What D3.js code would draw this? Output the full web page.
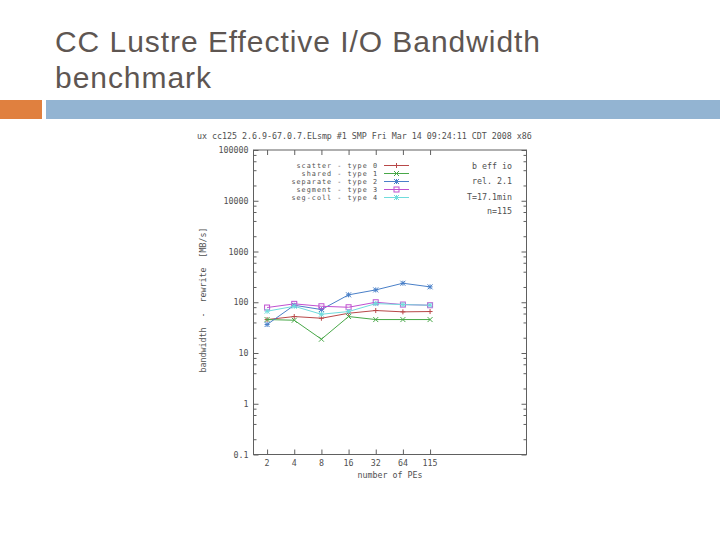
<!DOCTYPE html>
<html><head><meta charset="utf-8">
<script src="https://cdn.jsdelivr.net/npm/d3@7"></script>
<style>body{margin:0;background:#fff;} svg{display:block;}</style>
</head><body>
<svg id="c" width="720" height="540"></svg>
<script>
const titleLines = ["CC Lustre Effective I/O Bandwidth", "benchmark"];
const header = "ux cc125 2.6.9-67.0.7.ELsmp #1 SMP Fri Mar 14 09:24:11 CDT 2008 x86";
const categories = ["2", "4", "8", "16", "32", "64", "115"];
const seriesNames = ["scatter - type 0", "shared - type 1", "separate - type 2", "segment - type 3", "seg-coll - type 4"];
const scatter  = [45.6, 52.3, 48.4, 60.7, 68.7, 64.7, 65.6];
const shared   = [45.6, 44.2, 18.7, 52.3, 45.6, 45.6, 45.6];
const separate = [36.4, 87.3, 71.8, 140, 175, 237, 201];
const segment  = [78.7, 93, 83.4, 79.7, 100, 90, 87.3];
const segcoll  = [66.5, 83.4, 58, 65.6, 94, 90, 87.3];
const yTicks = [0.1, 1, 10, 100, 1000, 10000, 100000];
const yTickLabels = ["0.1", "1", "10", "100", "1000", "10000", "100000"];
const infoLines = ["b eff io", "rel. 2.1", "T=17.1min", "n=115"];
const yLabel = "bandwidth  -  rewrite  [MB/s]";
const xLabel = "number of PEs";

const colors = ["#b84848", "#48a848", "#4a80c8", "#c050d0", "#70dcdc"];
const markers = ["plus", "cross", "star", "square", "star"];
const series = [scatter, shared, separate, segment, segcoll];

const svg = d3.select("#c");
const mono = "'DejaVu Sans Mono', monospace";
const tcol = "#505050";

// slide title
svg.selectAll("text.title").data(titleLines).join("text")
  .attr("x", 55).attr("y", (d, i) => 51.5 + i * 36)
  .attr("font-family", "'Liberation Sans', Arial, sans-serif")
  .attr("font-size", 30).attr("letter-spacing", 0.95).attr("fill", "#5e5652").text(d => d);

// header bars
svg.append("rect").attr("x", 0).attr("y", 100).attr("width", 42).attr("height", 19).attr("fill", "#e0803f");
svg.append("rect").attr("x", 46).attr("y", 100).attr("width", 674).attr("height", 19).attr("fill", "#93b4d2");

// plot area
const L = 253.5, R = 526.5, T = 150, B = 454.5;
const x = d3.scaleLinear().domain([-0.5, 9.55]).range([L, R]);
const y = d3.scaleLog().domain([0.1, 100000]).range([B, T]);

svg.append("text").attr("x", 197).attr("y", 139).attr("font-family", mono)
  .attr("font-size", 8.3).attr("fill", tcol).text(header);

const g = svg.append("g");
g.append("rect").attr("x", L).attr("y", T).attr("width", R - L).attr("height", B - T)
  .attr("fill", "none").attr("stroke", "#606060").attr("stroke-width", 1);

// y ticks major & minor (left + mirrored right)
const minor = [];
for (let e = -1; e < 5; e++) for (const m of [2, 4, 6, 8]) minor.push(m * Math.pow(10, e));
const yAxisL = d3.axisLeft(y).tickValues(yTicks).tickFormat("").tickSize(-5);
const yAxisR = d3.axisRight(y).tickValues(yTicks).tickFormat("").tickSize(-5);
const yMinL = d3.axisLeft(y).tickValues(minor).tickFormat("").tickSize(-3);
const yMinR = d3.axisRight(y).tickValues(minor).tickFormat("").tickSize(-3);
[[yAxisL, L], [yMinL, L], [yAxisR, R], [yMinR, R]].forEach(([a, px]) => {
  const ag = g.append("g").attr("transform", `translate(${px},0)`).call(a);
  ag.select(".domain").remove();
  ag.selectAll("line").attr("stroke", "#606060");
});
// y tick labels
g.selectAll("text.yl").data(yTicks).join("text")
  .attr("x", L - 5).attr("y", d => y(d) + 3).attr("text-anchor", "end")
  .attr("font-family", mono).attr("font-size", 8.3).attr("fill", tcol)
  .text((d, i) => yTickLabels[i]);

// x ticks bottom & top
const idx = d3.range(categories.length);
const xAxisB = d3.axisBottom(x).tickValues(idx).tickFormat("").tickSize(-5);
const xAxisT = d3.axisTop(x).tickValues(idx).tickFormat("").tickSize(-5);
[[xAxisB, B], [xAxisT, T]].forEach(([a, py]) => {
  const ag = g.append("g").attr("transform", `translate(0,${py})`).call(a);
  ag.select(".domain").remove();
  ag.selectAll("line").attr("stroke", "#606060");
});
g.selectAll("text.xl").data(categories).join("text")
  .attr("x", (d, i) => x(i)).attr("y", 466).attr("text-anchor", "middle")
  .attr("font-family", mono).attr("font-size", 8.3).attr("fill", tcol).text(d => d);

svg.append("text").attr("x", 390).attr("y", 478).attr("text-anchor", "middle")
  .attr("font-family", mono).attr("font-size", 8.3).attr("fill", tcol).text(xLabel);
svg.append("text").attr("transform", "translate(206,300) rotate(-90)").attr("text-anchor", "middle")
  .attr("font-family", mono).attr("font-size", 8.3).attr("fill", tcol).attr("xml:space", "preserve").text(yLabel);

// marker drawing
function marker(sel, type, cx, cy, col) {
  const s = 2.5;
  if (type === "plus") {
    sel.append("path").attr("d", `M${cx - s},${cy}H${cx + s}M${cx},${cy - s}V${cy + s}`).attr("stroke", col).attr("fill", "none");
  } else if (type === "cross") {
    sel.append("path").attr("d", `M${cx - s},${cy - s}L${cx + s},${cy + s}M${cx - s},${cy + s}L${cx + s},${cy - s}`).attr("stroke", col).attr("fill", "none");
  } else if (type === "star") {
    sel.append("path").attr("d", `M${cx - s},${cy}H${cx + s}M${cx},${cy - s}V${cy + s}M${cx - s},${cy - s}L${cx + s},${cy + s}M${cx - s},${cy + s}L${cx + s},${cy - s}`).attr("stroke", col).attr("fill", "none");
  } else {
    sel.append("rect").attr("x", cx - s).attr("y", cy - s).attr("width", 2 * s).attr("height", 2 * s).attr("stroke", col).attr("fill", "none");
  }
}

const line = d3.line().x((d, i) => x(i)).y(d => y(d));
series.forEach((vals, k) => {
  const sg = g.append("g");
  sg.append("path").datum(vals).attr("d", line).attr("fill", "none").attr("stroke", colors[k]).attr("stroke-width", 1);
  vals.forEach((v, i) => marker(sg, markers[k], x(i), y(v), colors[k]));
});

// legend
seriesNames.forEach((n, k) => {
  const ly = 165.5 + k * 8;
  svg.append("text").attr("x", 378).attr("y", ly + 2.6).attr("text-anchor", "end")
    .attr("font-family", mono).attr("font-size", 6.8).attr("letter-spacing", 1.0)
    .attr("fill", tcol).text(n);
  svg.append("line").attr("x1", 384).attr("x2", 409).attr("y1", ly).attr("y2", ly).attr("stroke", colors[k]);
  marker(svg, markers[k], 396.5, ly, colors[k]);
});
infoLines.forEach((t, i) => {
  svg.append("text").attr("x", 512).attr("y", [168.5, 184, 199.5, 213.5][i]).attr("text-anchor", "end")
    .attr("font-family", mono).attr("font-size", 8.3).attr("fill", tcol).text(t);
});
</script>
</body></html>
